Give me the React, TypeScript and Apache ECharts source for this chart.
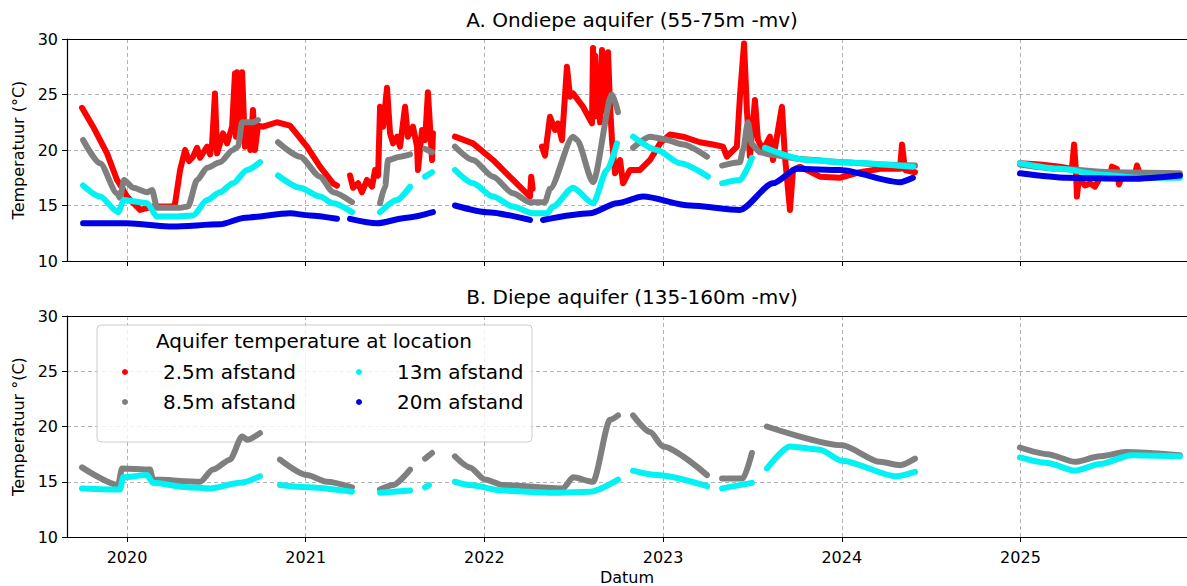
import React, { useEffect, useRef } from 'react';
import * as echarts from 'echarts';

type Pt = [number, number];

// ---------- axes ----------
const X_MIN = 2019.664;
const X_MAX = 2025.932;
const yearTicks = [2020, 2021, 2022, 2023, 2024, 2025];
const Y_MIN = 10;
const Y_MAX = 30;
const Y_STEP = 5;

const names = ['2.5m afstand', '8.5m afstand', '13m afstand', '20m afstand'];
const colors = ['#ff0000', '#7f7f7f', '#00f2f2', '#0000e6'];

// ---------- A. Ondiepe aquifer (decimal year, °C) ----------
const redTop: Pt[][] = [
  [[2019.748, 23.8], [2019.810, 22.1], [2019.888, 19.7], [2019.944, 17.3], [2019.972, 16.6], [2020.000, 15.8], [2020.073, 14.6], [2020.145, 14.9], [2020.257, 14.9], [2020.269, 15.2], [2020.297, 18.2], [2020.325, 20.0], [2020.347, 19.0], [2020.369, 19.4], [2020.392, 20.2], [2020.409, 19.3], [2020.448, 20.3], [2020.465, 19.6], [2020.476, 20.6], [2020.492, 25.1], [2020.504, 19.7], [2020.537, 21.5], [2020.560, 20.6], [2020.588, 22.1], [2020.604, 26.9], [2020.610, 21.2], [2020.615, 27.0], [2020.621, 22.7], [2020.632, 26.5], [2020.638, 21.5], [2020.644, 27.0], [2020.660, 20.3], [2020.677, 22.1], [2020.690, 20.0], [2020.705, 23.6], [2020.716, 20.0], [2020.733, 22.2], [2020.761, 22.1], [2020.839, 22.5], [2020.912, 22.2], [2021.007, 20.3], [2021.080, 18.5], [2021.153, 17.0], [2021.175, 16.8]],
  [[2021.248, 17.7], [2021.265, 16.6], [2021.293, 17.0], [2021.315, 16.2], [2021.343, 17.3], [2021.371, 16.7], [2021.388, 18.2], [2021.405, 17.7], [2021.416, 23.9], [2021.433, 22.1], [2021.455, 25.6], [2021.472, 21.5], [2021.489, 20.6], [2021.511, 21.2], [2021.528, 20.3], [2021.556, 23.9], [2021.572, 21.2], [2021.600, 22.1], [2021.623, 20.3], [2021.628, 18.2], [2021.651, 21.8], [2021.668, 20.9], [2021.684, 25.2], [2021.707, 19.1], [2021.712, 21.5]],
  [[2021.835, 21.2], [2021.936, 20.6], [2022.048, 19.1], [2022.160, 17.3], [2022.255, 15.8], [2022.262, 17.6], [2022.270, 16.5]],
  [[2022.322, 20.3], [2022.339, 19.5], [2022.367, 23.0], [2022.395, 21.8], [2022.412, 22.4], [2022.434, 20.9], [2022.462, 27.5], [2022.479, 24.8], [2022.496, 25.1], [2022.552, 23.9], [2022.602, 22.4], [2022.608, 29.2], [2022.614, 23.0], [2022.620, 28.5], [2022.630, 24.0], [2022.636, 26.3], [2022.647, 22.5], [2022.658, 29.0], [2022.664, 23.5], [2022.675, 28.5], [2022.686, 24.8], [2022.692, 28.8], [2022.703, 24.0], [2022.714, 20.9], [2022.731, 17.9], [2022.759, 19.1], [2022.776, 17.0], [2022.815, 18.2], [2022.871, 18.2], [2022.927, 19.1], [2022.983, 20.6], [2023.039, 21.4], [2023.111, 21.2], [2023.206, 20.7], [2023.279, 20.5], [2023.335, 20.3], [2023.357, 19.4], [2023.413, 20.3], [2023.430, 24.8], [2023.453, 29.6], [2023.470, 23.3], [2023.486, 19.4], [2023.514, 24.5], [2023.531, 20.9], [2023.559, 20.0], [2023.598, 21.2], [2023.615, 19.1], [2023.665, 23.9], [2023.682, 19.4], [2023.710, 14.6], [2023.727, 18.2], [2023.766, 18.5], [2023.878, 17.6], [2023.990, 17.5], [2024.102, 18.0], [2024.214, 18.3], [2024.326, 18.3], [2024.337, 20.5], [2024.354, 18.2], [2024.410, 18.0]],
  [[2024.997, 18.8], [2025.109, 18.7], [2025.221, 18.5], [2025.288, 18.3], [2025.300, 20.5], [2025.311, 18.0], [2025.316, 15.8], [2025.327, 17.5], [2025.361, 16.8], [2025.389, 17.0], [2025.417, 16.7], [2025.445, 17.5], [2025.501, 17.7], [2025.512, 18.5], [2025.540, 18.3], [2025.551, 16.9], [2025.568, 17.6], [2025.641, 17.8], [2025.652, 18.6], [2025.669, 17.8], [2025.781, 17.9], [2025.892, 17.8]],
];

const grayTop: Pt[][] = [
  [[2019.754, 20.9], [2019.849, 18.8], [2019.944, 16.1], [2019.961, 15.7], [2019.983, 17.3], [2020.034, 16.6], [2020.112, 16.2], [2020.140, 16.4], [2020.168, 14.8], [2020.297, 14.8], [2020.341, 14.9], [2020.392, 17.3], [2020.448, 18.4], [2020.520, 18.9], [2020.593, 20.0], [2020.621, 20.3], [2020.644, 22.5], [2020.705, 22.5], [2020.733, 22.7]],
  [[2020.845, 20.7], [2020.968, 19.4], [2021.080, 17.6], [2021.153, 16.2], [2021.259, 15.3]],
  [[2021.416, 15.2], [2021.444, 16.7], [2021.461, 19.1], [2021.528, 19.4], [2021.584, 19.6]],
  [[2021.668, 20.1], [2021.707, 19.8]],
  [[2021.835, 20.3], [2021.936, 19.1], [2022.048, 17.6], [2022.160, 16.1], [2022.255, 15.3], [2022.339, 15.3], [2022.367, 16.5], [2022.496, 21.2], [2022.518, 20.9], [2022.608, 17.1], [2022.714, 25.0], [2022.748, 23.4]],
  [[2022.832, 20.2], [2022.927, 21.2], [2023.000, 21.0], [2023.111, 20.5], [2023.246, 19.4]],
  [[2023.330, 18.6], [2023.430, 18.9], [2023.447, 20.0], [2023.475, 22.5], [2023.497, 20.5], [2023.542, 19.8], [2023.598, 19.6], [2023.766, 19.2], [2024.001, 18.9], [2024.214, 18.7], [2024.410, 18.6]],
  [[2024.997, 18.7], [2025.221, 18.3], [2025.501, 18.0], [2025.892, 17.9]],
];

const cyanTop: Pt[][] = [
  [[2019.754, 16.8], [2019.849, 15.8], [2019.950, 14.4], [2019.983, 15.5], [2020.073, 15.3], [2020.112, 15.2], [2020.168, 14.0], [2020.257, 14.0], [2020.369, 14.1], [2020.448, 15.5], [2020.520, 16.2], [2020.593, 17.0], [2020.672, 18.2], [2020.744, 18.9]],
  [[2020.845, 17.7], [2020.968, 16.6], [2021.080, 15.8], [2021.153, 15.2], [2021.259, 14.4]],
  [[2021.416, 14.4], [2021.511, 15.5], [2021.584, 16.7]],
  [[2021.668, 17.6], [2021.707, 18.0]],
  [[2021.835, 18.2], [2021.936, 17.0], [2022.048, 15.8], [2022.160, 14.9], [2022.272, 14.3], [2022.350, 14.3], [2022.384, 14.9], [2022.496, 16.6], [2022.608, 15.2], [2022.686, 18.2], [2022.742, 20.6]],
  [[2022.832, 21.2], [2022.966, 20.0], [2023.095, 18.8], [2023.251, 17.6]],
  [[2023.330, 17.0], [2023.430, 17.3], [2023.497, 19.3]],
  [[2023.570, 20.2], [2023.805, 19.1], [2023.990, 18.9], [2024.398, 18.5]],
  [[2024.997, 18.8], [2025.221, 18.3], [2025.445, 17.8], [2025.641, 17.5], [2025.892, 17.5]],
];

const blueTop: Pt[][] = [
  [[2019.754, 13.4], [2020.000, 13.4], [2020.257, 13.1], [2020.520, 13.3], [2020.660, 13.9], [2020.912, 14.3], [2021.024, 14.1], [2021.175, 13.8]],
  [[2021.248, 13.8], [2021.399, 13.4], [2021.567, 13.9], [2021.712, 14.4]],
  [[2021.835, 15.0], [2022.014, 14.4], [2022.255, 13.7]],
  [[2022.328, 13.7], [2022.591, 14.3], [2022.742, 15.2], [2022.888, 15.8], [2023.150, 15.0], [2023.430, 14.6], [2023.615, 17.0], [2023.749, 18.3], [2023.990, 18.2], [2024.326, 17.1], [2024.398, 17.5]],
  [[2024.997, 17.9], [2025.260, 17.5], [2025.630, 17.4], [2025.892, 17.7]],
];

// ---------- B. Diepe aquifer (decimal year, °C) ----------
const grayBottom: Pt[][] = [
  [[2019.748, 16.3], [2019.950, 14.7], [2019.972, 16.2], [2020.129, 16.1], [2020.145, 15.2], [2020.409, 15.0], [2020.481, 16.1], [2020.576, 17.0], [2020.644, 19.1], [2020.672, 18.8], [2020.744, 19.4]],
  [[2020.856, 17.0], [2021.007, 15.6], [2021.119, 15.0], [2021.259, 14.5]],
  [[2021.416, 14.3], [2021.489, 14.7], [2021.584, 16.1]],
  [[2021.668, 17.1], [2021.707, 17.6]],
  [[2021.835, 17.3], [2021.919, 16.3], [2022.003, 15.2], [2022.104, 14.7], [2022.440, 14.4], [2022.496, 15.4], [2022.608, 15.0], [2022.703, 20.6], [2022.748, 21.0]],
  [[2022.832, 21.0], [2022.927, 19.5], [2023.000, 18.2], [2023.246, 15.6]],
  [[2023.330, 15.3], [2023.447, 15.3], [2023.497, 17.6]],
  [[2023.581, 20.0], [2024.001, 18.3], [2024.214, 16.8], [2024.326, 16.5], [2024.410, 17.1]],
  [[2024.997, 18.1], [2025.150, 17.5], [2025.305, 16.8], [2025.445, 17.3], [2025.590, 17.7], [2025.892, 17.4]],
];

const cyanBottom: Pt[][] = [
  [[2019.748, 14.4], [2019.961, 14.3], [2019.978, 15.4], [2020.112, 15.6], [2020.145, 14.9], [2020.336, 14.5], [2020.464, 14.4], [2020.632, 14.9], [2020.744, 15.5]],
  [[2020.856, 14.7], [2021.007, 14.5], [2021.259, 14.1]],
  [[2021.416, 14.0], [2021.584, 14.2]],
  [[2021.668, 14.5], [2021.690, 14.7]],
  [[2021.835, 15.0], [2021.919, 14.7], [2022.104, 14.2], [2022.384, 14.0], [2022.591, 14.1], [2022.748, 15.2]],
  [[2022.832, 16.0], [2022.966, 15.6], [2023.246, 14.6]],
  [[2023.330, 14.4], [2023.497, 14.9]],
  [[2023.581, 16.2], [2023.710, 18.2], [2023.878, 17.9], [2024.001, 16.9], [2024.304, 15.5], [2024.410, 15.9]],
  [[2024.997, 17.2], [2025.150, 16.7], [2025.305, 16.0], [2025.445, 16.6], [2025.620, 17.4], [2025.892, 17.3]],
];

const FONT = 'DejaVu Sans';
const TXT = '#000000';

function buildSeries(panel: number, groups: { idx: number; segs: Pt[][] }[]) {
  const out: any[] = [];
  groups.forEach(({ idx, segs }) => {
    segs.forEach((seg) => {
      out.push({
        type: 'line',
        name: names[idx],
        xAxisIndex: panel,
        yAxisIndex: panel,
        data: seg,
        symbol: 'none',
        showSymbol: false,
        silent: true,
        smooth: idx === 0 ? false : 0.25,
        smoothMonotone: 'x',
        lineStyle: { color: colors[idx], width: 6, cap: 'round', join: 'round' },
        itemStyle: { color: colors[idx] },
        emphasis: { disabled: true },
      });
    });
  });
  return out;
}

export default function App() {
  const ref = useRef<HTMLDivElement>(null);
  useEffect(() => {
    if (!ref.current) return;
    const chart = echarts.init(ref.current, null, { renderer: 'svg' });
    const gridLine = { show: true, lineStyle: { color: '#b3b3b3', type: [4, 3], width: 1 } };
    const bottomX = (i: number) => ({
      type: 'value',
      gridIndex: i,
      position: 'bottom',
      min: X_MIN,
      max: X_MAX,
      axisLine: { show: true, onZero: false, lineStyle: { color: '#000', width: 1.2 } },
      axisTick: { show: true, length: 5, customValues: yearTicks, lineStyle: { color: '#000', width: 1 } },
      axisLabel: { show: i === 1, customValues: yearTicks, formatter: (v: number) => String(Math.round(v)), fontSize: 16, margin: 12, color: TXT, fontFamily: FONT },
      splitLine: gridLine,
      name: i === 1 ? 'Datum' : '',
      nameLocation: 'middle',
      nameGap: 32,
      nameTextStyle: { fontSize: 16, color: TXT, fontFamily: FONT },
    });
    const topX = (i: number) => ({
      type: 'value',
      gridIndex: i,
      position: 'top',
      min: X_MIN,
      max: X_MAX,
      axisLine: { show: true, onZero: false, lineStyle: { color: '#000', width: 1.2 } },
      axisTick: { show: false },
      axisLabel: { show: false },
      splitLine: { show: false },
    });
    const yAx = (i: number, name: string) => ({
      type: 'value',
      gridIndex: i,
      min: Y_MIN,
      max: Y_MAX,
      interval: Y_STEP,
      axisLine: { show: true, onZero: false, lineStyle: { color: '#000', width: 1.2 } },
      axisTick: { show: true, length: 5, lineStyle: { color: '#000', width: 1 } },
      axisLabel: { fontSize: 16, margin: 9, color: TXT, fontFamily: FONT },
      splitLine: gridLine,
      name,
      nameLocation: 'middle',
      nameGap: 38,
      nameTextStyle: { fontSize: 16, color: TXT, fontFamily: FONT },
    });
    const legendBase = {
      orient: 'vertical',
      top: 362,
      itemWidth: 6,
      itemHeight: 6,
      itemGap: 10,
      icon: 'circle',
      padding: 0,
      selectedMode: false,
      z: 6,
      textStyle: { fontSize: 20, color: TXT, fontFamily: FONT, padding: [0, 0, 0, 30] },
    };
    const option: any = {
      animation: false,
      backgroundColor: '#ffffff',
      textStyle: { fontFamily: FONT, color: TXT },
      title: [
        { text: 'A. Ondiepe aquifer (55-75m -mv)', left: 632, top: 10, textAlign: 'center', padding: 0, textStyle: { fontSize: 20, fontWeight: 'normal', color: TXT, fontFamily: FONT } },
        { text: 'B. Diepe aquifer (135-160m -mv)', left: 632, top: 287, textAlign: 'center', padding: 0, textStyle: { fontSize: 20, fontWeight: 'normal', color: TXT, fontFamily: FONT } },
        { text: 'Aquifer temperature at location', left: 314, top: 331, textAlign: 'center', padding: 0, z: 6, textStyle: { fontSize: 20, fontWeight: 'normal', color: TXT, fontFamily: FONT } },
      ],
      grid: [
        { left: 67, top: 39, right: 0, height: 222 },
        { left: 67, top: 316, right: 0, height: 221 },
      ],
      xAxis: [bottomX(0), bottomX(1), topX(0), topX(1)],
      yAxis: [yAx(0, 'Temperatuur (°C)'), yAx(1, 'Temperatuur °(C)')],
      legend: [
        { ...legendBase, left: 122, data: [names[0], names[1]] },
        { ...legendBase, left: 356, data: [names[2], names[3]] },
      ],
      graphic: [
        {
          type: 'rect',
          z: 3,
          shape: { x: 97, y: 325, width: 435, height: 117, r: 4 },
          style: { fill: 'rgba(255,255,255,0.8)', stroke: '#cccccc', lineWidth: 1 },
        },
      ],
      series: [
        ...buildSeries(0, [
          { idx: 0, segs: redTop },
          { idx: 1, segs: grayTop },
          { idx: 2, segs: cyanTop },
          { idx: 3, segs: blueTop },
        ]),
        ...buildSeries(1, [
          { idx: 1, segs: grayBottom },
          { idx: 2, segs: cyanBottom },
        ]),
        // legend-only entries for the deep panel (no data shown there)
        { type: 'line', name: names[0], xAxisIndex: 1, yAxisIndex: 1, data: [], itemStyle: { color: colors[0] }, lineStyle: { color: colors[0] } },
        { type: 'line', name: names[3], xAxisIndex: 1, yAxisIndex: 1, data: [], itemStyle: { color: colors[3] }, lineStyle: { color: colors[3] } },
      ],
    };
    chart.setOption(option);
    return () => chart.dispose();
  }, []);
  return <div ref={ref} style={{ position: 'absolute', left: 0, top: 0, width: 1187, height: 586 }} />;
}
